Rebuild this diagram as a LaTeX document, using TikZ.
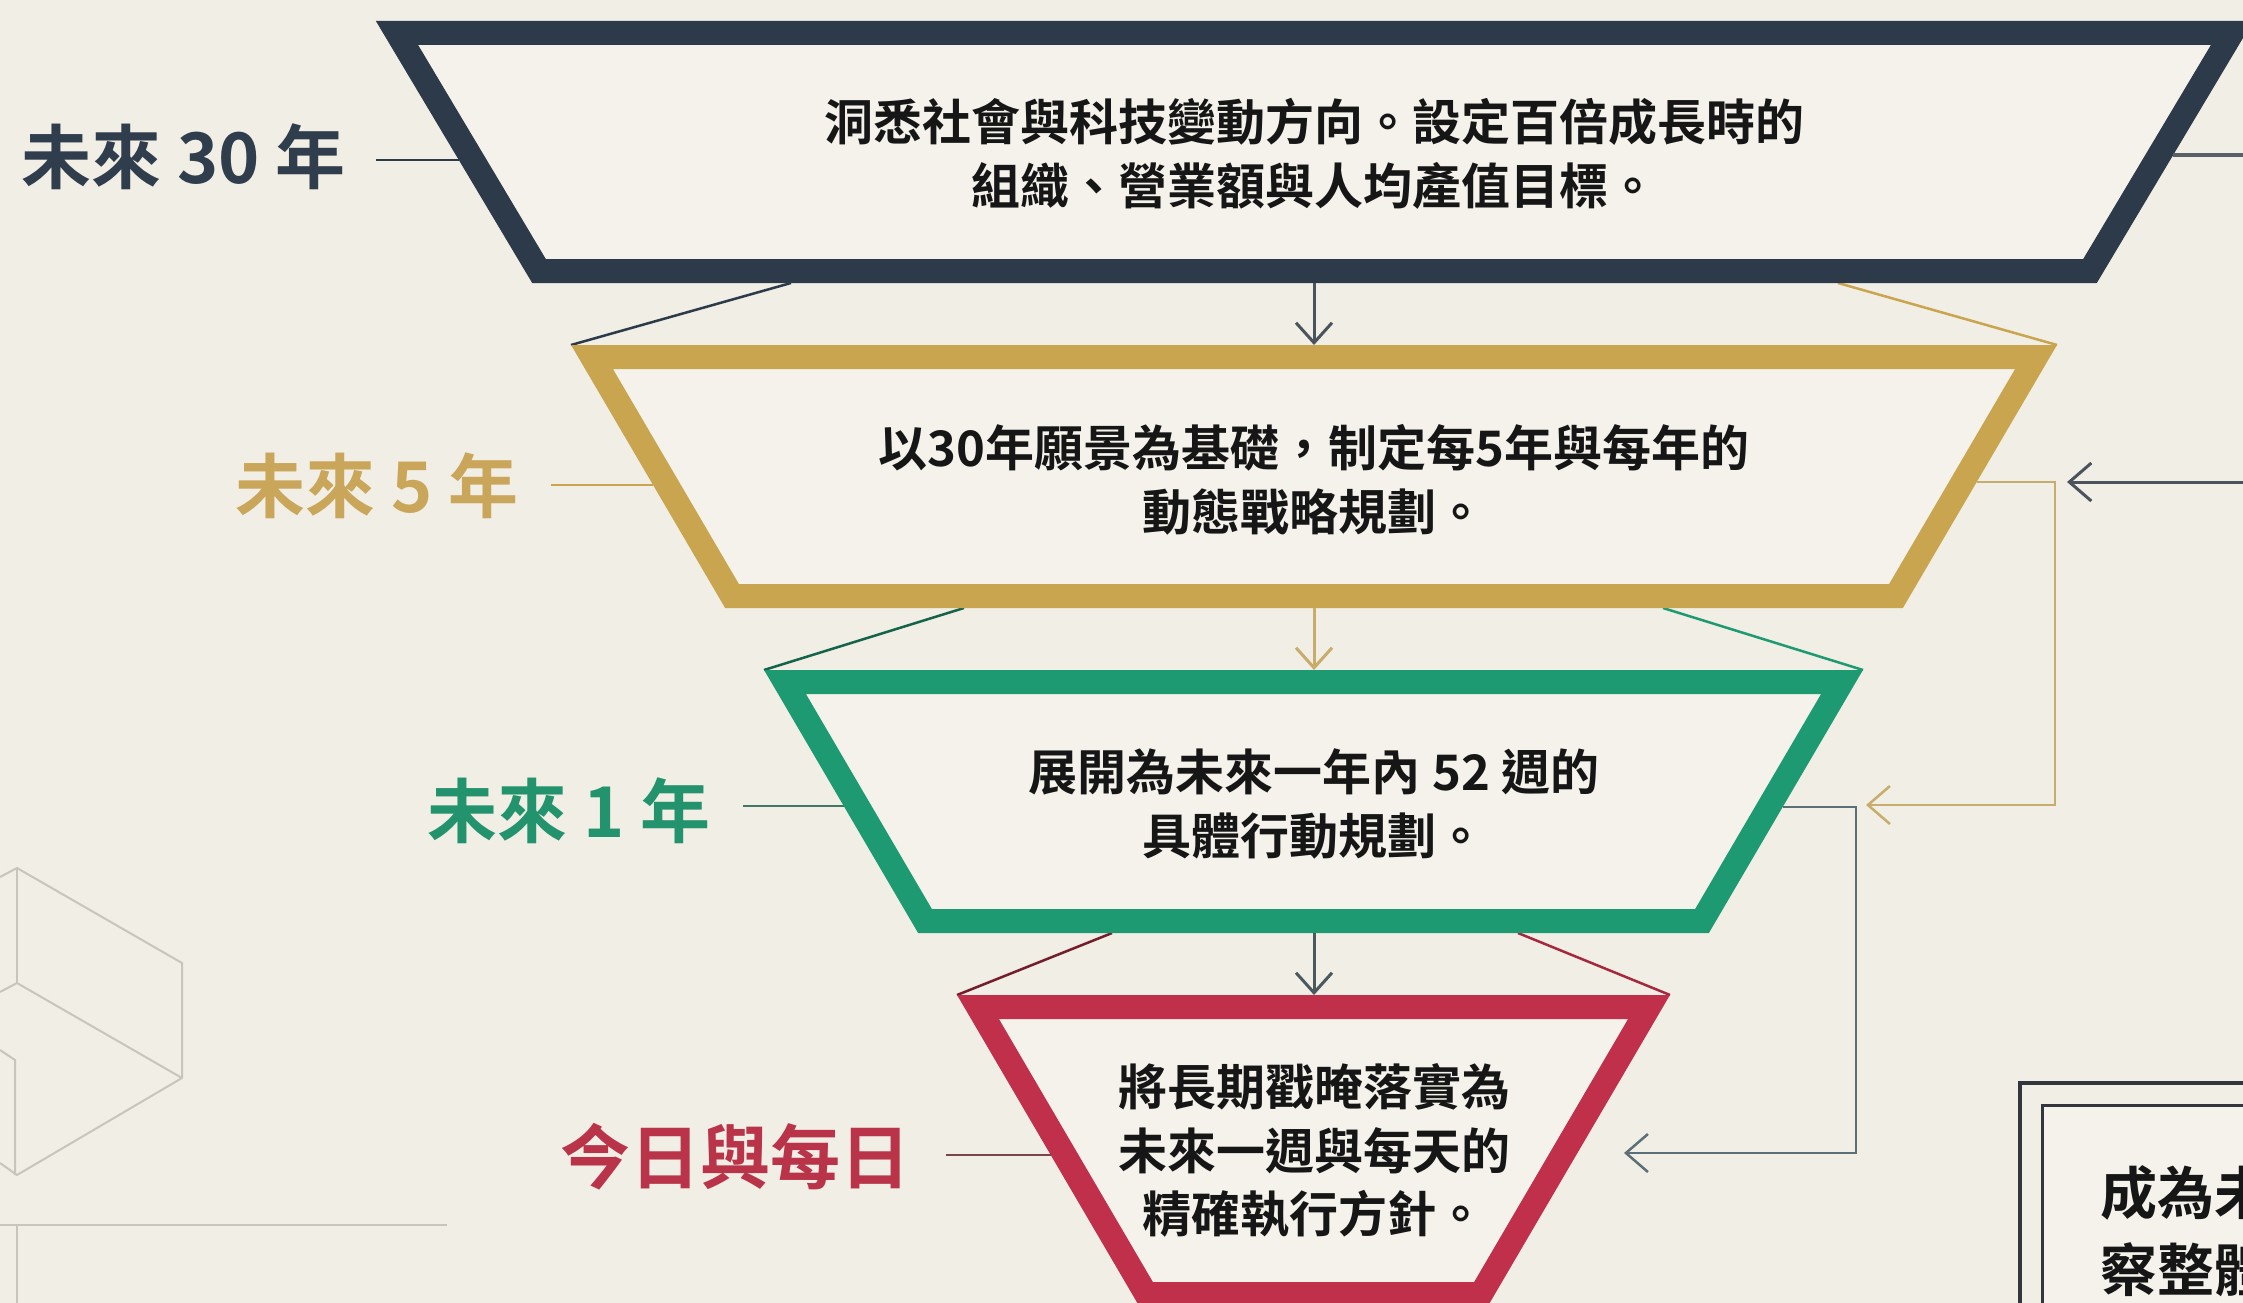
\documentclass[tikz,border=0pt]{standalone}
\usepackage{fontspec}
\setmainfont{Noto Sans CJK TC}[BoldFont={* Bold}]
\usetikzlibrary{arrows.meta}
\definecolor{bg}{HTML}{F1EEE5}
\definecolor{inbg}{HTML}{F4F2EB}
\definecolor{navy}{HTML}{2C3A4A}
\definecolor{gold}{HTML}{C9A54F}
\definecolor{grn}{HTML}{1E9A72}
\definecolor{crim}{HTML}{C1304A}
\definecolor{navyt}{HTML}{2F3D4C}
\definecolor{goldt}{HTML}{C9A65A}
\definecolor{grnt}{HTML}{23936E}
\definecolor{crimt}{HTML}{B93449}
\definecolor{ink}{HTML}{161616}
\definecolor{decog}{HTML}{CAC5BA}
\definecolor{grayl}{HTML}{5A6068}
\definecolor{navyl}{HTML}{4B535D}
\definecolor{goldl}{HTML}{C8AC6C}
\definecolor{slatel}{HTML}{5C6F76}
\definecolor{boxc}{HTML}{33373D}
\tikzset{
  trap/.style={line width=24pt, line join=miter, fill=inbg},
  body/.style={font=\bfseries\fontsize{49}{63.5}\selectfont, text=ink, align=center, inner sep=0pt},
  lab/.style={font=\bfseries\fontsize{70}{80}\selectfont, inner sep=0pt, anchor=east},
  bevel/.style={line width=2.5pt},
  labline/.style={line width=2.5pt},
  downarr/.style={line width=3pt, -{Straight Barb[length=20pt,width=36pt]}},
  fbarr/.style={line width=3pt, -{Straight Barb[length=22pt,width=38pt]}},
  deco/.style={draw=decog, line width=2pt},
}
\begin{document}
\begin{tikzpicture}[x=1pt,y=-1pt]
\useasboundingbox (0,0) rectangle (2243,1303);
\clip (0,0) rectangle (2243,1303);
\fill[bg] (0,0) rectangle (2243,1303);

% background decoration
\draw[deco] (0,877)--(17,868)--(182,963)--(182,1078)--(17,1175)--(0,1163);
\draw[deco] (17,868)--(17,983);
\draw[deco] (0,992)--(17,983)--(182,1078);
\draw[deco] (0,1050)--(15,1060)--(15,1175);
\draw[deco] (0,1225)--(447,1225);
\draw[deco] (17,1225)--(17,1303);

% coordinates
\coordinate (t1bl) at (791,283);  \coordinate (t1br) at (1838,283);
\coordinate (t2tl) at (571,345);  \coordinate (t2tr) at (2057,345);
\coordinate (t2bl) at (964,608);  \coordinate (t2br) at (1663,608);
\coordinate (t3tl) at (764,670);  \coordinate (t3tr) at (1863,670);
\coordinate (t3bl) at (1112,933); \coordinate (t3br) at (1518,933);
\coordinate (t4tl) at (957,995);  \coordinate (t4tr) at (1670,995);

% bevel lines
\draw[bevel, navy] (t1bl) -- (t2tl);
\draw[bevel, gold] (t1br) -- (t2tr);
\draw[bevel, grn!65!black] (t2bl) -- (t3tl);
\draw[bevel, grn] (t2br) -- (t3tr);
\draw[bevel, crim!60!black] (t3bl) -- (t4tl);
\draw[bevel, crim!85!black] (t3br) -- (t4tr);

% trapezoids
\draw[trap, draw=navy] (397,33) -- (2232,33) -- (2090,271) -- (539,271) -- cycle;
\draw[trap, draw=gold] (592,357) -- (2036,357) -- (1896,596) -- (732,596) -- cycle;
\draw[trap, draw=grn] (785,682) -- (1842,682) -- (1702,921) -- (925,921) -- cycle;
\draw[trap, draw=crim] (978,1007) -- (1649,1007) -- (1481,1294) -- (1146,1294) -- cycle;

% texts
\node[body] (b1) at (1314,154) {洞悉社會與科技變動方向。設定百倍成長時的\\組織、營業額與人均產值目標。};
\node[body] (b2) at (1314,480) {以30年願景為基礎，制定每5年與每年的\\動態戰略規劃。};
\node[body] (b3) at (1314,804) {展開為未來一年內 52 週的\\具體行動規劃。};
\node[body] (b4) at (1314,1151) {將長期戳晻落實為\\未來一週與每天的\\精確執行方針。};

% labels
\node[lab, text=navyt] (l1) at (346,157) {未來 30 年};
\node[lab, text=goldt] (l2) at (519,486) {未來 5 年};
\node[lab, text=grnt] (l3) at (711,811) {未來 1 年};
\node[lab, text=crimt] (l4) at (911,1157) {今日與每日};

\coordinate (t1e) at (459,160);
\coordinate (t2e) at (653,485);
\coordinate (t3e) at (844,806);
\coordinate (t4e) at (1051,1155);
\draw[labline, navy, shorten <=30pt] (l1.east |- t1e) -- (t1e);
\draw[labline, gold, shorten <=32pt] (l2.east |- t2e) -- (t2e);
\draw[labline, grn!55!black!80, shorten <=32pt] (l3.east |- t3e) -- (t3e);
\draw[labline, crim!45!black!80, shorten <=35pt] (l4.east |- t4e) -- (t4e);

% down arrows
\coordinate (t1b) at (1314,283); \coordinate (t2t) at (1314,345);
\coordinate (t2b) at (1314,608); \coordinate (t3t) at (1314,670);
\coordinate (t3b) at (1314,933); \coordinate (t4t) at (1314,995);
\draw[downarr, navyl] (t1b) -- (t2t);
\draw[downarr, goldl] (t2b) -- (t3t);
\draw[downarr, slatel!80!black] (t3b) -- (t4t);

% feedback lines
\coordinate (t1r) at (2173,155); \coordinate (out1) at (2243,155);
\draw[line width=3pt, grayl] (t1r) -- (out1);
\coordinate (in2) at (2243,482); \coordinate (tip2) at (2067,482);
\draw[fbarr, navyl] (in2) -- (tip2);
\coordinate (t2r) at (1977,482); \coordinate (tip3) at (1866,805);
\draw[fbarr, goldl, line width=2.5pt] (t2r) -- (2055,482) |- (tip3);
\coordinate (t3r) at (1783,807); \coordinate (tip4) at (1624,1153);
\draw[fbarr, slatel, line width=2.5pt] (t3r) -- (1856,807) |- (tip4);

% goal box (partly visible)
\draw[line width=3.5pt, boxc] (2020,1083) rectangle (2320,1420);
\draw[line width=3pt, boxc, fill=inbg] (2042,1105) rectangle (2320,1420);
\node[font=\bfseries\fontsize{57}{77}\selectfont, text=ink, align=left, anchor=west, inner sep=0pt] (goal) at (2100,1231) {成為未\\察整體};
\end{tikzpicture}
\end{document}
